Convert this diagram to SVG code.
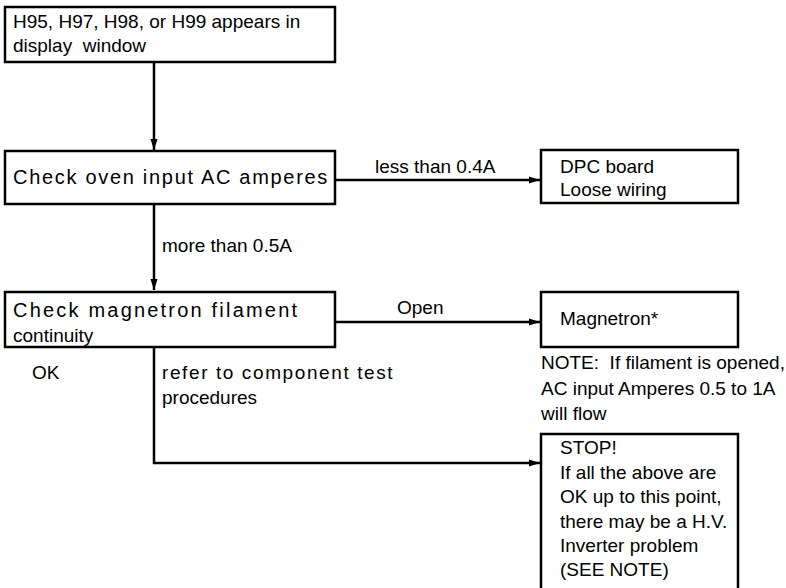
<svg xmlns="http://www.w3.org/2000/svg" width="786" height="588" viewBox="0 0 786 588">
<style>
  .box { fill: #ffffff; stroke: #000000; stroke-width: 2.5; }
  .wire { fill: none; stroke: #000000; stroke-width: 2.5; }
  text { font-family: "Liberation Sans", Arial, sans-serif; font-size: 19px; fill: #000000; white-space: pre; }
  .sp { font-size: 20px; }
</style>
<defs>
  <marker id="arr" markerUnits="userSpaceOnUse" markerWidth="12" markerHeight="8" refX="11" refY="4" orient="auto">
    <path d="M0,0.5 L11,4 L0,7.5 z" fill="#000000"/>
  </marker>
</defs>
<rect width="786" height="588" fill="#ffffff"/>
<g id="connectors">
  <line class="wire" x1="154" y1="62" x2="154" y2="150" marker-end="url(#arr)"/>
  <line class="wire" x1="335" y1="180" x2="540" y2="180" marker-end="url(#arr)"/>
  <line class="wire" x1="154" y1="204" x2="154" y2="290" marker-end="url(#arr)"/>
  <line class="wire" x1="335" y1="322" x2="540" y2="322" marker-end="url(#arr)"/>
  <polyline class="wire" points="154,347 154,463 540,463" marker-end="url(#arr)"/>
  <text x="375" y="173">less than 0.4A</text>
  <text x="162" y="252">more than 0.5A</text>
  <text x="397" y="314">Open</text>
  <text x="32" y="379">OK</text>
  <text x="162" y="379" letter-spacing="1.6">refer to component test</text>
  <text x="162" y="404">procedures</text>
</g>
<g id="start">
  <rect class="box" x="5" y="7" width="330" height="55"/>
  <text x="13" y="28">H95, H97, H98, or H99 appears in</text>
  <text x="13" y="52">display  window</text>
</g>
<g id="check-ac">
  <rect class="box" x="5" y="151" width="330" height="53"/>
  <text class="sp" x="13" y="184" letter-spacing="1.7">Check oven input AC amperes</text>
</g>
<g id="dpc">
  <rect class="box" x="541" y="150" width="197" height="53"/>
  <text x="560" y="173">DPC board</text>
  <text x="560" y="196">Loose wiring</text>
</g>
<g id="check-filament">
  <rect class="box" x="5" y="292" width="330" height="55"/>
  <text class="sp" x="13" y="317" letter-spacing="2.2">Check magnetron filament</text>
  <text x="13" y="342">continuity</text>
</g>
<g id="magnetron">
  <rect class="box" x="541" y="292" width="197" height="55"/>
  <text x="560" y="325">Magnetron*</text>
</g>
<g id="note">
  <text x="541" y="369">NOTE:  If filament is opened,</text>
  <text x="541" y="395">AC input Amperes 0.5 to 1A</text>
  <text x="541" y="420">will flow</text>
</g>
<g id="stop">
  <rect class="box" x="541" y="434" width="197" height="170"/>
  <text x="560" y="454">STOP!</text>
  <text x="560" y="479">If all the above are</text>
  <text x="560" y="503">OK up to this point,</text>
  <text x="560" y="528">there may be a H.V.</text>
  <text x="560" y="552">Inverter problem</text>
  <text x="560" y="576">(SEE NOTE)</text>
</g>
</svg>
